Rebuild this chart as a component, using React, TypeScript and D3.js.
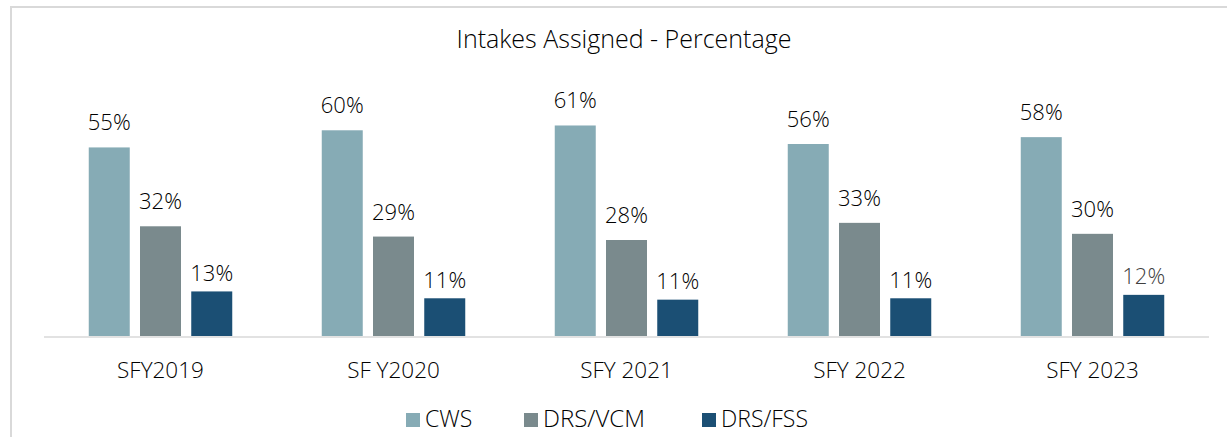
import React from "react";
import * as d3 from "d3";

const categories = ["SFY2019", "SF Y2020", "SFY 2021", "SFY 2022", "SFY 2023"];
const seriesNames = ["CWS", "DRS/VCM", "DRS/FSS"];
const cwsValues = [0.55, 0.6, 0.614, 0.56, 0.58];
const vcmValues = [0.32, 0.29, 0.28, 0.33, 0.298];
const fssValues = [0.13, 0.11, 0.106, 0.11, 0.12];
const seriesColors = ["#86abb5", "#7a8a8d", "#1b4f74"];
const chartTitle = "Intakes Assigned - Percentage";

const W = 1227;
const H = 437;
const FONT = "'Open Sans', 'Liberation Sans', sans-serif";

export default function App() {
  const seriesValues = [cwsValues, vcmValues, fssValues];
  const x0 = d3.scaleBand<string>().domain(categories).range([44, 1209]).padding(0);
  const bw = x0.bandwidth();
  const x1 = d3
    .scaleBand<string>()
    .domain(seriesNames)
    .range([bw / 2 - 71.75, bw / 2 + 71.75])
    .paddingInner(0.2)
    .paddingOuter(0);
  const y = d3.scaleLinear().domain([0, 0.7]).range([336, 96]);
  const fmt = d3.format(".0%");
  const labelGap = [17, 17, 10.5];
  const labelColor = (si: number, ci: number) => (si === 2 && ci === 4 ? "#404040" : "#000");

  const legendX = [406, 524, 702];

  return (
    <svg
      width={W}
      height={H}
      style={{ position: "absolute", left: 0, top: 0, background: "#fff" }}
      fontFamily={FONT}
      fontWeight={300}
    >
      <rect x={11} y={7} width={W + 20} height={H + 20} fill="#fff" stroke="#d9d9d9" strokeWidth={2} />
      <text x={624} y={47.5} textAnchor="middle" fontSize={25} fill="#000">
        {chartTitle}
      </text>
      {categories.map((c, ci) => (
        <g key={c} transform={`translate(${x0(c)},0)`}>
          {seriesNames.map((s, si) => {
            const v = seriesValues[si][ci];
            const bx = x1(s) as number;
            return (
              <g key={s}>
                <rect x={bx} y={y(v)} width={x1.bandwidth()} height={y(0) - y(v)} fill={seriesColors[si]} />
                <text
                  x={bx + x1.bandwidth() / 2}
                  y={y(v) - labelGap[si]}
                  textAnchor="middle"
                  fontSize={22}
                  fill={labelColor(si, ci)}
                >
                  {fmt(v)}
                </text>
              </g>
            );
          })}
          <text x={bw / 2} y={378} textAnchor="middle" fontSize={22.5} fill="#000">
            {c}
          </text>
        </g>
      ))}
      <line x1={44} x2={1209} y1={337} y2={337} stroke="#d9d9d9" strokeWidth={1.5} />
      {seriesNames.map((s, si) => (
        <g key={s}>
          <rect x={legendX[si]} y={413} width={14} height={14} fill={seriesColors[si]} />
          <text x={legendX[si] + 19} y={427} fontSize={si === 1 ? 24 : 23} fill="#000">
            {s}
          </text>
        </g>
      ))}
    </svg>
  );
}
